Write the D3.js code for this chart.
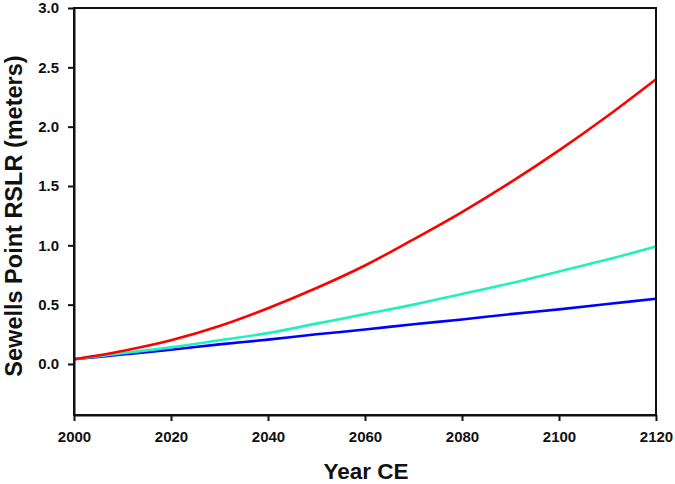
<!DOCTYPE html>
<html><head><meta charset="utf-8">
<script src="https://cdn.jsdelivr.net/npm/d3@7"></script>
<style>body{margin:0;background:#fff}svg{display:block}text{font-family:"Liberation Sans",Arial,sans-serif;font-weight:bold}</style>
</head><body><svg id="c" width="675" height="484"></svg>
<script>
const years = [2000,2010,2020,2030,2040,2050,2060,2070,2080,2090,2100,2110,2120];
const redVals = [0.04,0.11,0.20,0.32,0.47,0.64,0.83,1.05,1.28,1.53,1.80,2.09,2.40];
const cyanVals = [0.04,0.09,0.14,0.20,0.26,0.34,0.42,0.50,0.59,0.68,0.78,0.88,0.99];
const blueVals = [0.04,0.08,0.12,0.165,0.205,0.25,0.29,0.335,0.375,0.42,0.46,0.505,0.55];
const xTicks = [2000,2020,2040,2060,2080,2100,2120];
const yTicks = [0.0,0.5,1.0,1.5,2.0,2.5,3.0];
const seriesColors = ["#0000ff","#20f0c0","#ff0000"];

const svg = d3.select("#c");
const L=74,R=656,T=8,B=415;
const x = d3.scaleLinear().domain([2000,2120]).range([L,R]);
const y = d3.scaleLinear().domain([-0.43,3.0]).range([B,T]);

const line = d3.line().x((d,i)=>x(years[i])).y(d=>y(d)).curve(d3.curveMonotoneX);
[blueVals,cyanVals,redVals].forEach((s,i)=>{
  svg.append("path").attr("d",line(s)).attr("fill","none").attr("stroke",seriesColors[i]).attr("stroke-width",2.6);
});

// frame
svg.append("rect").attr("x",L).attr("y",T).attr("width",R-L).attr("height",B-T).attr("fill","none").attr("stroke","#111").attr("stroke-width",2);

const xa = svg.append("g").attr("transform",`translate(0,${B})`).call(d3.axisBottom(x).tickValues(xTicks).tickFormat(d3.format("d")).tickSize(6).tickSizeOuter(0));
const ya = svg.append("g").attr("transform",`translate(${L},0)`).call(d3.axisLeft(y).tickValues(yTicks).tickFormat(d3.format(".1f")).tickSize(6).tickSizeOuter(0));
[xa,ya].forEach(a=>{
  a.select(".domain").attr("stroke","#111").attr("stroke-width",2);
  a.selectAll(".tick line").attr("stroke","#111").attr("stroke-width",2);
  a.selectAll(".tick text").attr("font-size",15).attr("font-family","Liberation Sans, Arial, sans-serif").attr("font-weight","bold").attr("fill","#111");
});
xa.selectAll(".tick text").attr("dy","1.2em");
ya.selectAll(".tick text").attr("dx","-0.4em");

svg.append("text").attr("x",(L+R)/2+1).attr("y",479).attr("text-anchor","middle").attr("font-size",22.5).attr("fill","#111").text("Year CE");
svg.append("text").attr("transform",`translate(22,216) rotate(-90)`).attr("text-anchor","middle").attr("font-size",23.5).attr("fill","#111").text("Sewells Point RSLR (meters)");
</script></body></html>
